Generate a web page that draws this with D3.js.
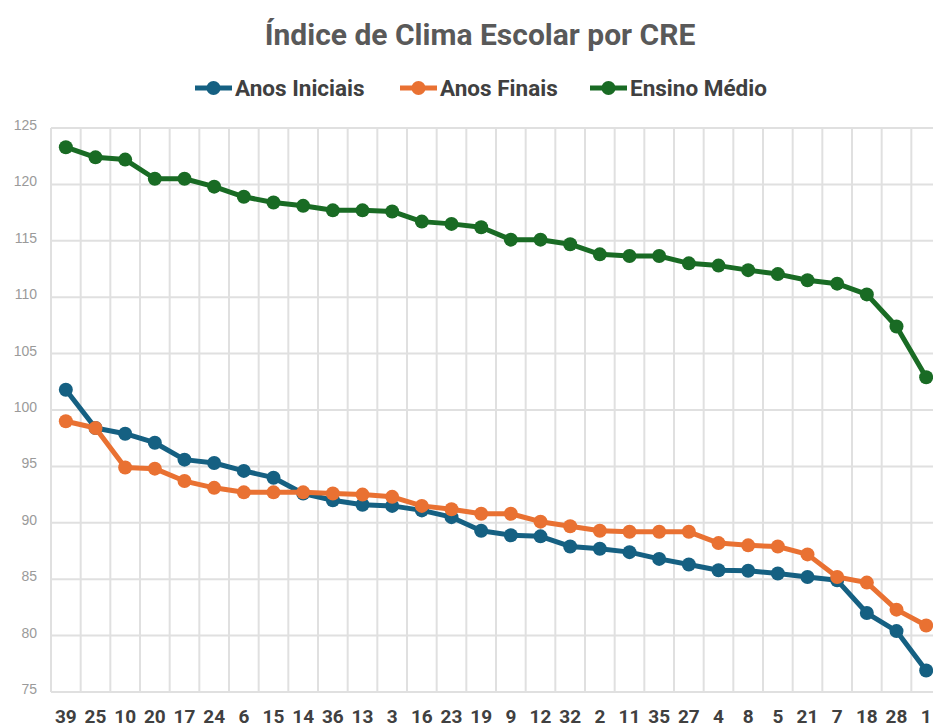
<!DOCTYPE html>
<html><head><meta charset="utf-8">
<script src="https://cdn.jsdelivr.net/npm/d3@7/dist/d3.min.js"></script>
<style>
body{margin:0;background:#fff;}
text{font-family:"Liberation Sans Narrow","Arial Narrow","Roboto",sans-serif;}
</style></head>
<body><svg id="c" width="933" height="728"></svg>
<script>
const categories = ["39","25","10","20","17","24","6","15","14","36","13","3","16","23","19","9","12","32","2","11","35","27","4","8","5","21","7","18","28","1"];
const anosIniciais = [101.8,98.4,97.9,97.1,95.6,95.3,94.6,94.0,92.6,92.0,91.6,91.5,91.1,90.5,89.3,88.9,88.8,87.9,87.7,87.4,86.8,86.3,85.8,85.75,85.5,85.2,84.9,82.0,80.4,76.9];
const anosFinais = [99.0,98.4,94.9,94.8,93.7,93.1,92.7,92.7,92.7,92.6,92.5,92.3,91.5,91.2,90.8,90.8,90.1,89.7,89.3,89.2,89.2,89.2,88.2,88.0,87.9,87.2,85.2,84.7,82.3,80.9];
const ensinoMedio = [123.3,122.4,122.2,120.5,120.5,119.8,118.9,118.4,118.1,117.7,117.7,117.6,116.7,116.5,116.2,115.1,115.1,114.7,113.8,113.65,113.65,113.0,112.8,112.4,112.05,111.5,111.2,110.25,107.4,102.9];
const yTicks = [75,80,85,90,95,100,105,110,115,120,125];
const seriesNames = ["Anos Iniciais","Anos Finais","Ensino Médio"];
const seriesColors = ["#156082","#E97132","#196B24"];
const title = "Índice de Clima Escolar por CRE";

(function(){
const series = [anosIniciais, anosFinais, ensinoMedio].map((v,i)=>({name:seriesNames[i], color:seriesColors[i], values:v}));

const svg = d3.select("#c");
const mL = 51, mR = 941, mT = 128, mB = 692;

const x = d3.scaleBand().domain(categories).range([mL, mR]).padding(0);
const y = d3.scaleLinear().domain([75,125]).range([mB, mT]);

const grid = svg.append("g");
grid.selectAll("line.h").data(yTicks).join("line")
  .attr("x1", mL).attr("x2", mR)
  .attr("y1", d=>y(d)).attr("y2", d=>y(d))
  .attr("stroke","#e0e0e0").attr("stroke-width",2);
const bounds = categories.map(c=>x(c)).concat([mR]);
grid.selectAll("line.v").data(bounds).join("line")
  .attr("x1", d=>d).attr("x2", d=>d)
  .attr("y1", mT).attr("y2", mB)
  .attr("stroke","#e0e0e0").attr("stroke-width",2);

const yAxis = svg.append("g").attr("transform",`translate(${mL-14},0)`)
  .call(d3.axisLeft(y).tickValues(yTicks).tickSize(0).tickPadding(0));
yAxis.select(".domain").remove();
yAxis.selectAll("text").attr("fill","#9a9a9a").style("font-size","14px").style("font-family","'Liberation Sans',Arial,sans-serif").attr("dy","0.1em");

const xAxis = svg.append("g").attr("transform",`translate(0,${mB})`)
  .call(d3.axisBottom(x).tickSize(0).tickPadding(17));
xAxis.select(".domain").remove();
xAxis.selectAll("text").attr("fill","#404040").style("font-size","19px").style("font-weight","bold").attr("dy","0.75em");

const line = d3.line().x((d,i)=>x(categories[i])+x.bandwidth()/2).y(d=>y(d));
series.forEach(s=>{
  const g = svg.append("g");
  g.append("path").datum(s.values).attr("d",line).attr("fill","none")
    .attr("stroke",s.color).attr("stroke-width",5).attr("stroke-linejoin","round");
  g.selectAll("circle").data(s.values).join("circle")
    .attr("cx",(d,i)=>x(categories[i])+x.bandwidth()/2).attr("cy",d=>y(d))
    .attr("r",7).attr("fill",s.color);
});

svg.append("text").attr("x",480).attr("y",45).attr("text-anchor","middle")
  .attr("fill","#595959").style("font-size","30px").style("font-weight","bold").text(title);

const legX = [195, 400, 590];
const leg = svg.append("g");
series.forEach((s,i)=>{
  const g = leg.append("g").attr("transform",`translate(${legX[i]},88)`);
  g.append("line").attr("x1",0).attr("x2",37).attr("stroke",s.color).attr("stroke-width",5);
  g.append("circle").attr("cx",18.5).attr("r",7).attr("fill",s.color);
  g.append("text").attr("x",40).attr("y",0).attr("dy","0.35em").attr("fill","#404040")
    .style("font-size","22.5px").style("font-weight","bold").text(s.name);
});
})();
</script></body></html>
